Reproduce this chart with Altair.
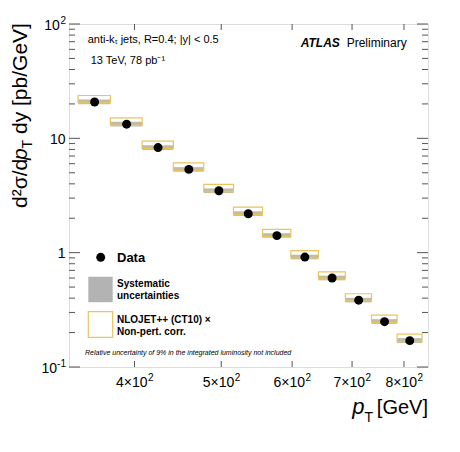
import altair as alt
import pandas as pd

# ---- data ----
bin_lo = [346, 376, 408, 442, 478, 516, 556, 598, 642, 688, 736, 786]
bin_hi = [376, 408, 442, 478, 516, 556, 598, 642, 688, 736, 786, 838]
pt_center = [361, 392, 425, 460, 497, 536, 577, 620, 665, 712, 761, 812]
xsec = [20.8, 13.3, 8.3, 5.35, 3.48, 2.19, 1.41, 0.915, 0.60, 0.384, 0.249, 0.170]
syst_lo = [19.9, 12.7, 7.9, 5.1, 3.32, 2.09, 1.35, 0.874, 0.573, 0.367, 0.238, 0.162]
syst_hi = [21.9, 14.0, 8.7, 5.6, 3.65, 2.30, 1.48, 0.96, 0.63, 0.403, 0.262, 0.179]
nlo_lo = [20.4, 13.0, 8.15, 5.25, 3.42, 2.15, 1.38, 0.90, 0.59, 0.377, 0.245, 0.167]
nlo_hi = [23.7, 15.1, 9.45, 6.1, 3.95, 2.5, 1.6, 1.04, 0.68, 0.437, 0.284, 0.194]

x_major = [400, 500, 600, 700, 800]
x_label_main = ["4×10", "5×10", "6×10", "7×10", "8×10"]
x_label_sup = ["2", "2", "2", "2", "2"]
y_major = [0.1, 1, 10, 100]
y_label_main = ["10", "1", "10", "10"]
y_label_sup = ["-1", "", "", "2"]
y_minor = [0.2, 0.3, 0.4, 0.5, 0.6, 0.7, 0.8, 0.9,
           2, 3, 4, 5, 6, 7, 8, 9,
           20, 30, 40, 50, 60, 70, 80, 90]

W, H = 359, 343
FONT = "Liberation Sans"
FRAME = "#555555"

df = pd.DataFrame({"lo": bin_lo, "hi": bin_hi, "pt": pt_center, "xs": xsec,
                   "slo": syst_lo, "shi": syst_hi, "nlo": nlo_lo, "nhi": nlo_hi})

xs = alt.Scale(type="log", domain=[338, 851], nice=False)
ys = alt.Scale(type="log", domain=[0.1, 100], nice=False)

base = alt.Chart(df)

syst = base.mark_rect(color="#c2bba5").encode(
    x=alt.X("lo:Q", scale=xs, axis=None), x2="hi:Q",
    y=alt.Y("slo:Q", scale=ys, axis=None), y2="shi:Q",
)
nlo = base.mark_rect(fillOpacity=0, stroke="#e8c55e", strokeWidth=1.2).encode(
    x=alt.X("lo:Q", scale=xs, axis=None), x2="hi:Q",
    y=alt.Y("nlo:Q", scale=ys, axis=None), y2="nhi:Q",
)
pts = base.mark_circle(color="black", opacity=1, size=80).encode(
    x=alt.X("pt:Q", scale=xs, axis=None),
    y=alt.Y("xs:Q", scale=ys, axis=None),
)

# ---- ROOT-style inward ticks ----
ymaj = alt.Chart(pd.DataFrame({"t": y_major}))
ymin = alt.Chart(pd.DataFrame({"t": y_minor}))
xmaj = alt.Chart(pd.DataFrame({"t": x_major, "main": x_label_main, "sup": x_label_sup}))
tick_layers = []
for src, ln in [(ymaj, 11), (ymin, 6)]:
    tick_layers.append(src.mark_rule(color=FRAME, strokeWidth=1).encode(
        y=alt.Y("t:Q", scale=ys, axis=None), x=alt.value(0), x2=alt.value(ln)))
    tick_layers.append(src.mark_rule(color=FRAME, strokeWidth=1).encode(
        y=alt.Y("t:Q", scale=ys, axis=None), x=alt.value(W - ln), x2=alt.value(W)))
tick_layers.append(xmaj.mark_rule(color=FRAME, strokeWidth=1).encode(
    x=alt.X("t:Q", scale=xs, axis=None), y=alt.value(H - 6), y2=alt.value(H)))
tick_layers.append(xmaj.mark_rule(color=FRAME, strokeWidth=1).encode(
    x=alt.X("t:Q", scale=xs, axis=None), y=alt.value(0), y2=alt.value(6)))

# ---- tick labels with real superscripts ----
label_layers = [
    xmaj.mark_text(font=FONT, fontSize=14, align="right", baseline="alphabetic", dx=13,
                   color="black").encode(
        x=alt.X("t:Q", scale=xs, axis=None), y=alt.value(H + 20), text="main:N"),
    xmaj.mark_text(font=FONT, fontSize=10, align="left", baseline="alphabetic", dx=13.5,
                   color="black").encode(
        x=alt.X("t:Q", scale=xs, axis=None), y=alt.value(H + 14), text="sup:N"),
]
for v, m, s in zip(y_major, y_label_main, y_label_sup):
    d = alt.Chart(pd.DataFrame({"t": [v], "main": [m], "sup": [s]}))
    sup_w = 0 if not s else (5.6 if len(s) == 1 else 8.5)
    label_layers.append(d.mark_text(font=FONT, fontSize=14, align="right", baseline="middle",
                                    dy=1.5, color="black").encode(
        y=alt.Y("t:Q", scale=ys, axis=None), x=alt.value(-3.5 - sup_w), text="main:N"))
    if s:
        label_layers.append(d.mark_text(font=FONT, fontSize=10, align="right",
                                        baseline="middle", dy=-3.5, color="black").encode(
            y=alt.Y("t:Q", scale=ys, axis=None), x=alt.value(-3), text="sup:N"))

one = pd.DataFrame({"a": [0]})


def txt(s, x, y, size, weight="normal", style="normal", align="left", angle=0):
    return alt.Chart(one).mark_text(text=s, font=FONT, fontSize=size, fontWeight=weight,
                                    fontStyle=style, align=align, baseline="alphabetic",
                                    angle=angle, color="black").encode(
        x=alt.value(x), y=alt.value(y))


texts = [
    # y title (rotated)
    txt("d²σ/d", -42, 184, 21, angle=270),
    txt("p", -42, 136, 21, style="italic", angle=270),
    txt("T", -37, 124.5, 14, angle=270),
    txt("dy [pb/GeV]", -42, 110, 21, angle=270),
    # x title
    txt("p", 295.5, 390, 22, style="italic", align="right"),
    txt("T", 304, 398, 14, align="right"),
    txt("[GeV]", 359, 390, 20, align="right"),
    # top annotations
    txt("anti-kₜ jets,  R=0.4; |y| < 0.5", 18.7, 19.3, 11),
    txt("13 TeV, 78 pb⁻¹", 21.7, 40, 11),
    txt("ATLAS", 231.7, 22.7, 12, weight="bold", style="italic"),
    txt("Preliminary", 277.7, 22.7, 12),
    # legend
    txt("Data", 48, 238, 13, weight="bold"),
    txt("Systematic", 48, 262.7, 10, weight="bold"),
    txt("uncertainties", 48, 275.3, 10, weight="bold"),
    txt("NLOJET++ (CT10) ×", 48, 298.7, 10, weight="bold"),
    txt("Non-pert. corr.", 48, 311, 10, weight="bold"),
    txt("Relative uncertainty of 9% in the integrated luminosity not included", 16, 331, 7,
        style="italic"),
]

leg_pt = alt.Chart(one).mark_circle(color="black", opacity=1, size=80).encode(
    x=alt.value(31.7), y=alt.value(233.3))
leg_grey = alt.Chart(one).mark_rect(color="#b3b3b3").encode(
    x=alt.value(19.3), x2=alt.value(43.7), y=alt.value(252.7), y2=alt.value(278.3))
leg_yel = alt.Chart(one).mark_rect(fillOpacity=0, stroke="#e8c55e", strokeWidth=1.2).encode(
    x=alt.value(19.3), x2=alt.value(43.7), y=alt.value(287.7), y2=alt.value(313.3))

chart = alt.layer(syst, nlo, pts, *tick_layers, *label_layers, leg_pt, leg_grey, leg_yel,
                  *texts).properties(
    width=W, height=H,
    autosize=alt.AutoSizeParams(type="none"),
    padding={"left": 61, "top": 16, "right": 24, "bottom": 77},
).configure_view(stroke=FRAME, strokeWidth=1).configure(background="white")

chart.save("out.html", embed_options={"renderer": "svg", "actions": False})
